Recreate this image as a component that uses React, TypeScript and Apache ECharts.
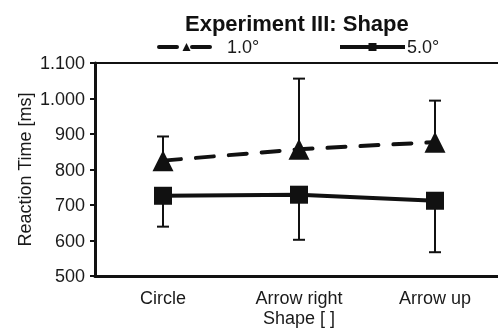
import React, { useEffect, useRef } from "react";
import * as echarts from "echarts";

const categories = ["Circle", "Arrow right", "Arrow up"];
const seriesNames = ["1.0°", "5.0°"];
const mean1 = [825, 857, 877];
const upper1 = [893, 1056, 994];
const mean5 = [726, 729, 712];
const lower5 = [639, 602, 567];
const yTicks = [500, 600, 700, 800, 900, 1000, 1100];

const FONT = "Liberation Sans, Arial, sans-serif";
const INK = "#111";
const TXT = "#1a1a1a";

function errorRender(params: any, api: any) {
  const x = api.value(0);
  const a = api.coord([x, api.value(1)]);
  const b = api.coord([x, api.value(2)]);
  const half = 6;
  return {
    type: "group",
    children: [
      { type: "line", shape: { x1: a[0], y1: a[1], x2: b[0], y2: b[1] }, style: { stroke: INK, lineWidth: 2 } },
      { type: "line", shape: { x1: b[0] - half, y1: b[1], x2: b[0] + half, y2: b[1] }, style: { stroke: INK, lineWidth: 2 } },
    ],
  };
}

export default function App() {
  const ref = useRef<HTMLDivElement>(null);
  useEffect(() => {
    const chart = echarts.init(ref.current!, null, { renderer: "svg" });
    chart.setOption({
      animation: false,
      textStyle: { fontFamily: FONT },
      title: {
        text: "Experiment III: Shape",
        left: 185,
        top: 12,
        padding: 0,
        textStyle: { fontFamily: FONT, fontSize: 22, fontWeight: "bold", color: INK },
      },
      legend: [
        {
          data: [seriesNames[0]],
          left: 157,
          top: 38,
          padding: 0,
          itemWidth: 55,
          itemHeight: 10,
          itemGap: 0,
          lineStyle: { width: 4 },
          textStyle: { fontFamily: FONT, fontSize: 18, color: TXT, padding: [0, 0, 0, 8] },
        },
        {
          data: [seriesNames[1]],
          left: 338,
          top: 38,
          padding: 0,
          itemWidth: 65,
          itemHeight: 10,
          lineStyle: { width: 4 },
          textStyle: { fontFamily: FONT, fontSize: 18, color: TXT, padding: [0, 0, 0, -3] },
        },
      ],
      grid: { left: 95, top: 63, width: 408, height: 213, outerBoundsMode: "none", containLabel: false },
      xAxis: [
        {
          type: "category",
          data: categories,
          position: "bottom",
          boundaryGap: true,
          name: "Shape [ ]",
          nameLocation: "middle",
          nameGap: 33,
          nameMoveOverlap: false,
          nameTextStyle: { fontFamily: FONT, fontSize: 18, color: TXT },
          axisLine: { lineStyle: { color: INK, width: 3 } },
          axisTick: { length: 4, lineStyle: { color: INK, width: 2 } },
          axisLabel: { fontFamily: FONT, fontSize: 18, color: TXT, margin: 13 },
        },
        {
          type: "category",
          data: categories,
          position: "top",
          axisLine: { lineStyle: { color: INK, width: 2 } },
          axisTick: { show: false },
          axisLabel: { show: false },
        },
      ],
      yAxis: {
        type: "value",
        min: yTicks[0],
        max: yTicks[yTicks.length - 1],
        interval: 100,
        name: "Reaction Time [ms]",
        nameLocation: "middle",
        nameGap: 61,
        nameMoveOverlap: false,
        nameTextStyle: { fontFamily: FONT, fontSize: 18, color: TXT },
        splitLine: { show: false },
        axisLine: { show: true, lineStyle: { color: INK, width: 3 } },
        axisTick: { show: true, length: 5, lineStyle: { color: INK, width: 2 } },
        axisLabel: {
          fontFamily: FONT,
          fontSize: 18,
          color: TXT,
          margin: 10,
          formatter: (v: number) => (v >= 1000 ? Math.floor(v / 1000) + "." + String(v % 1000).padStart(3, "0") : String(v)),
        },
      },
      series: [
        {
          type: "custom",
          name: "err1",
          renderItem: errorRender,
          data: categories.map((_, i) => [i, mean1[i], upper1[i]]),
          z: 1,
          silent: true,
        },
        {
          type: "custom",
          name: "err5",
          renderItem: errorRender,
          data: categories.map((_, i) => [i, mean5[i], lower5[i]]),
          z: 1,
          silent: true,
        },
        {
          type: "line",
          name: seriesNames[0],
          data: mean1,
          symbol: "triangle",
          symbolSize: 21,
          itemStyle: { color: INK },
          lineStyle: { color: INK, width: 4, type: [18, 15], cap: "round" },
          z: 3,
        },
        {
          type: "line",
          name: seriesNames[1],
          data: mean5,
          symbol: "rect",
          symbolSize: 18,
          itemStyle: { color: INK },
          lineStyle: { color: INK, width: 4 },
          z: 3,
        },
      ],
    });
    return () => chart.dispose();
  }, []);
  return <div ref={ref} style={{ position: "fixed", left: 0, top: 0, width: 498, height: 331 }} />;
}
